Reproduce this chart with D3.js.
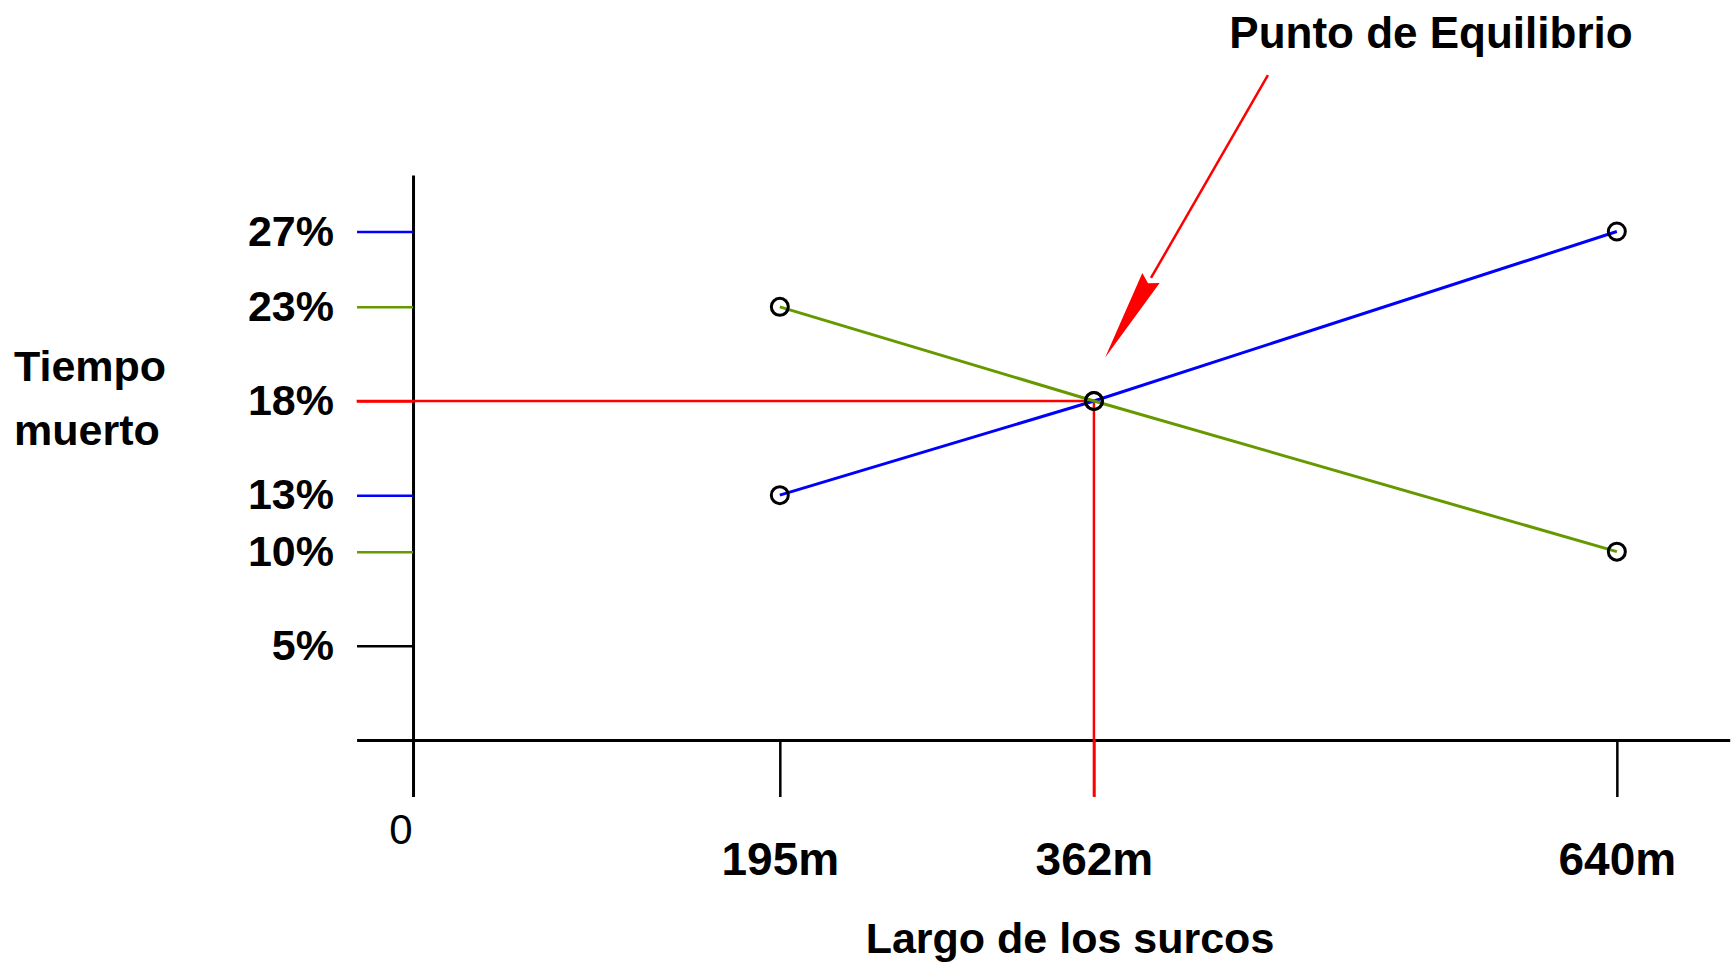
<!DOCTYPE html>
<html>
<head>
<meta charset="utf-8">
<script src="https://cdn.jsdelivr.net/npm/d3@7"></script>
<style>
  body { margin: 0; background: #fff; }
</style>
</head>
<body>
<svg id="body" width="1734" height="962"></svg>
<script>
// datos
const largos = [195, 362, 640];
const tiempoAzul = [13, 18, 27];
const tiempoVerde = [23, 18, 10];
const yTicks = [5, 10, 13, 18, 23, 27];
const xTicks = [195, 362, 640];
const equilibrio = [362, 18];
const flecha = [[454.5, 35.3], [367.9, 20.3]];

const azul = "#0000ff", verde = "#669900", rojo = "#ff0000";
const fuente = "'Liberation Sans', Arial, sans-serif";

let svg = d3.select("#body");

let x = d3.scaleLinear()
    .domain([-30, 700])
    .range([356.6, 1729.7]);

let y = d3.scaleLinear()
    .domain([-3, 30])
    .range([796.5, 175]);

function tickColor(v) {
    if (v == equilibrio[1] || v == equilibrio[0]) return rojo;
    if (tiempoAzul.includes(v)) return azul;
    if (tiempoVerde.includes(v)) return verde;
    return "#000";
}

// eje y
let yAxis = d3.axisLeft(y)
    .tickValues(yTicks)
    .tickSize(56)
    .tickSizeOuter(0)
    .tickPadding(23)
    .tickFormat(d => d + "%");

svg.append("g")
    .attr("id", "yAxis")
    .attr("transform", `translate(${x(0)},0)`)
    .call(yAxis)
    .attr("font-family", fuente)
    .attr("font-size", 43)
    .attr("font-weight", "bold")
    .call(g => g.select(".domain").attr("stroke-width", 3))
    .call(g => g.selectAll(".tick line")
        .attr("stroke", d => tickColor(d))
        .attr("stroke-width", 2.5))
    .call(g => g.selectAll(".tick text").attr("fill", "#000"));

// eje x
let xAxis = d3.axisBottom(x)
    .tickValues(xTicks)
    .tickSize(57)
    .tickSizeOuter(0)
    .tickPadding(45)
    .tickFormat(d => d + "m");

svg.append("g")
    .attr("id", "xAxis")
    .attr("transform", `translate(0,${y(0)})`)
    .call(xAxis)
    .attr("font-family", fuente)
    .attr("font-size", 46)
    .attr("font-weight", "bold")
    .call(g => g.select(".domain").attr("stroke-width", 3))
    .call(g => g.selectAll(".tick line")
        .attr("stroke", d => tickColor(d))
        .attr("stroke-width", 2.5))
    .call(g => g.selectAll(".tick text").attr("fill", "#000"));

svg.append("text")
    .attr("x", x(0) - 12)
    .attr("y", 844)
    .attr("text-anchor", "middle")
    .attr("font-family", fuente)
    .attr("font-size", 42)
    .text("0");

// lineas del punto de equilibrio
svg.append("line")
    .attr("x1", x(-30)).attr("x2", x(equilibrio[0]))
    .attr("y1", y(equilibrio[1])).attr("y2", y(equilibrio[1]))
    .attr("stroke", rojo).attr("stroke-width", 2.5);

svg.append("line")
    .attr("x1", x(equilibrio[0])).attr("x2", x(equilibrio[0]))
    .attr("y1", y(equilibrio[1])).attr("y2", y(-3))
    .attr("stroke", rojo).attr("stroke-width", 2.5);

// series
let linea = d3.line()
    .x(d => x(d[0]))
    .y(d => y(d[1]));

let series = [
    { color: azul, valores: largos.map((l, i) => [l, tiempoAzul[i]]) },
    { color: verde, valores: largos.map((l, i) => [l, tiempoVerde[i]]) }
];

svg.selectAll(".serie")
    .data(series)
    .enter()
    .append("path")
    .attr("class", "serie")
    .attr("d", d => linea(d.valores))
    .attr("fill", "none")
    .attr("stroke", d => d.color)
    .attr("stroke-width", 3);

svg.selectAll(".punto")
    .data(series.flatMap(s => s.valores))
    .enter()
    .append("circle")
    .attr("class", "punto")
    .attr("cx", d => x(d[0]))
    .attr("cy", d => y(d[1]))
    .attr("r", 8.5)
    .attr("fill", "none")
    .attr("stroke", "#000")
    .attr("stroke-width", 3);

// flecha
let p0 = [x(flecha[0][0]), y(flecha[0][1])];
let p1 = [x(flecha[1][0]), y(flecha[1][1])];
let dx = p1[0] - p0[0], dy = p1[1] - p0[1];
let len = Math.hypot(dx, dy);
let ux = dx / len, uy = dy / len;
let largoPunta = 92, anchoPunta = 10;
let base = [p1[0] - ux * largoPunta, p1[1] - uy * largoPunta];

svg.append("line")
    .attr("x1", p0[0]).attr("y1", p0[1])
    .attr("x2", base[0]).attr("y2", base[1])
    .attr("stroke", rojo).attr("stroke-width", 2.5);

svg.append("path")
    .attr("d", d3.line()([
        p1,
        [base[0] - uy * anchoPunta, base[1] + ux * anchoPunta],
        [base[0] + ux * 6, base[1] + uy * 6],
        [base[0] + uy * anchoPunta, base[1] - ux * anchoPunta]
    ]) + "Z")
    .attr("fill", rojo);

// textos
svg.append("text")
    .attr("x", 1431)
    .attr("y", 48)
    .attr("text-anchor", "middle")
    .attr("font-family", fuente)
    .attr("font-size", 44)
    .attr("font-weight", "bold")
    .text("Punto de Equilibrio");

svg.append("text")
    .attr("font-family", fuente)
    .attr("font-size", 43)
    .attr("font-weight", "bold")
    .selectAll("tspan")
    .data(["Tiempo", "muerto"])
    .enter()
    .append("tspan")
    .attr("x", 14)
    .attr("y", (d, i) => 381 + i * 64)
    .text(d => d);

svg.append("text")
    .attr("x", 1070)
    .attr("y", 953)
    .attr("text-anchor", "middle")
    .attr("font-family", fuente)
    .attr("font-size", 43)
    .attr("font-weight", "bold")
    .text("Largo de los surcos");
</script>
</body>
</html>
